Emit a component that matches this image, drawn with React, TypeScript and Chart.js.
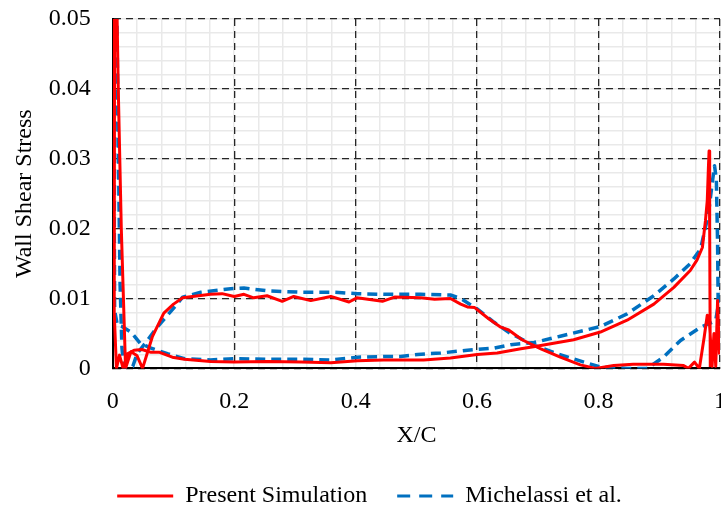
import React, { useEffect, useRef } from 'react';
import { Chart, registerables } from 'chart.js';

Chart.register(...registerables);

// ---- Data ----
const X_TICKS = [0, 0.2, 0.4, 0.6, 0.8, 1];
const X_LABELS = ['0', '0.2', '0.4', '0.6', '0.8', '1'];
const Y_TICKS = [0, 0.01, 0.02, 0.03, 0.04, 0.05];
const Y_LABELS = ['0', '0.01', '0.02', '0.03', '0.04', '0.05'];
const MINOR_DIVISIONS = 5;

const SERIES_NAMES = ['Present Simulation', 'Michelassi et al.'];

// Present Simulation: traced as one path around the blade surface
const PRESENT_SIMULATION: [number, number][] = [
  [0.999, 0.002], [0.996, 0.0097], [0.993, 0.0003], [0.990, 0.005], [0.987, 0.0003],
  [0.983, 0.006], [0.979, 0.0076], [0.974, 0.0045], [0.966, 0.0], [0.958, 0.0009],
  [0.948, 0.0], [0.940, 0.0004], [0.907, 0.0006], [0.857, 0.0006], [0.825, 0.0004],
  [0.795, 0.0], [0.770, 0.0005], [0.737, 0.0016], [0.705, 0.0028], [0.674, 0.0041],
  [0.652, 0.0055], [0.639, 0.0059], [0.619, 0.0071], [0.596, 0.0087], [0.584, 0.0088],
  [0.573, 0.0092], [0.556, 0.0100], [0.530, 0.0099], [0.507, 0.0101], [0.464, 0.0102],
  [0.444, 0.0096], [0.402, 0.0101], [0.389, 0.0095], [0.359, 0.0103], [0.326, 0.0097],
  [0.298, 0.0103], [0.279, 0.0096], [0.254, 0.0104], [0.232, 0.0101], [0.216, 0.0106],
  [0.200, 0.0103], [0.180, 0.0107], [0.161, 0.0106], [0.115, 0.0101], [0.100, 0.0092],
  [0.084, 0.0079], [0.065, 0.0045], [0.049, 0.0], [0.040, 0.0018], [0.030, 0.0024],
  [0.021, 0.0], [0.014, 0.02], [0.009, 0.04], [0.006, 0.056], [0.003, 0.056],
  [0.002, 0.04], [0.002, 0.02], [0.003, 0.008], [0.006, 0.0], [0.011, 0.0019],
  [0.017, 0.0], [0.024, 0.0021], [0.035, 0.0026], [0.048, 0.0027], [0.063, 0.0023],
  [0.077, 0.0023], [0.098, 0.0016], [0.118, 0.0013], [0.161, 0.0010], [0.200, 0.0009],
  [0.255, 0.0010], [0.310, 0.0009], [0.359, 0.0008], [0.403, 0.0011], [0.446, 0.0012],
  [0.512, 0.0012], [0.556, 0.0015], [0.600, 0.0020], [0.633, 0.0022], [0.672, 0.0028],
  [0.693, 0.0031], [0.759, 0.0041], [0.803, 0.0052], [0.847, 0.0069], [0.891, 0.0092],
  [0.924, 0.0116], [0.951, 0.0140], [0.962, 0.0155], [0.971, 0.0173], [0.976, 0.0211],
  [0.979, 0.0240], [0.981, 0.0290], [0.982, 0.0311], [0.983, 0.0200], [0.984, 0.0002],
];

// Michelassi et al.: traced as one path around the blade surface
const MICHELASSI: [number, number][] = [
  [0.0035, 0.056], [0.003, 0.04], [0.0025, 0.02], [0.003, 0.0083], [0.0075, 0.0062],
  [0.015, 0.0060], [0.030, 0.0052], [0.045, 0.0036], [0.063, 0.0029], [0.090, 0.0021],
  [0.118, 0.0014], [0.161, 0.0012], [0.200, 0.0014], [0.255, 0.0013], [0.310, 0.0013],
  [0.359, 0.0012], [0.403, 0.0016], [0.446, 0.0017], [0.474, 0.0017], [0.502, 0.0020],
  [0.540, 0.0022], [0.584, 0.0026], [0.628, 0.0029], [0.655, 0.0034], [0.694, 0.0037],
  [0.737, 0.0046], [0.803, 0.0060], [0.847, 0.0078], [0.891, 0.0104], [0.924, 0.0128],
  [0.951, 0.0150], [0.968, 0.0171], [0.981, 0.0221], [0.987, 0.0264], [0.991, 0.0290],
  [0.994, 0.0270], [0.996, 0.0180], [0.997, 0.0090], [0.993, 0.0069], [0.987, 0.0066],
  [0.968, 0.0059], [0.935, 0.0040], [0.907, 0.0016], [0.880, 0.0], [0.847, 0.0],
  [0.803, 0.0002], [0.776, 0.0009], [0.732, 0.0021], [0.694, 0.0033], [0.655, 0.0050],
  [0.628, 0.0066], [0.600, 0.0085], [0.573, 0.0100], [0.556, 0.0105], [0.507, 0.0106],
  [0.446, 0.0106], [0.403, 0.0107], [0.364, 0.0109], [0.309, 0.0109], [0.255, 0.0111],
  [0.216, 0.0115], [0.194, 0.0114], [0.145, 0.0109], [0.115, 0.0102], [0.106, 0.0092],
  [0.090, 0.0076], [0.073, 0.0059], [0.057, 0.0040], [0.040, 0.0021], [0.033, 0.0003],
  [0.025, 0.0], [0.018, 0.0], [0.015, 0.003], [0.012, 0.012], [0.010, 0.025],
  [0.008, 0.04], [0.006, 0.056],
];

const FONT = '"Liberation Serif", "Times New Roman", serif';

function minorTicks(major: number[]) {
  const out: { value: number }[] = [];
  for (let i = 0; i < major.length - 1; i++) {
    const a = major[i];
    const b = major[i + 1];
    for (let k = 0; k < MINOR_DIVISIONS; k++) out.push({ value: a + ((b - a) * k) / MINOR_DIVISIONS });
  }
  out.push({ value: major[major.length - 1] });
  return out;
}

export default function App() {
  const canvasRef = useRef<HTMLCanvasElement | null>(null);

  useEffect(() => {
    let chart: any = null;
    let cancelled = false;

    const build = () => {
      if (cancelled || !canvasRef.current) return;
      Chart.defaults.font.family = FONT;
      chart = new Chart(canvasRef.current, {
        type: 'scatter',
        data: {
          datasets: [
            {
              label: SERIES_NAMES[0],
              data: PRESENT_SIMULATION.map(([x, y]) => ({ x, y })),
              showLine: true,
              borderColor: '#FF0000',
              backgroundColor: '#FF0000',
              borderWidth: 3,
              pointRadius: 0,
              pointHoverRadius: 0,
              tension: 0,
              borderJoinStyle: 'round',
            } as any,
            {
              label: SERIES_NAMES[1],
              data: MICHELASSI.map(([x, y]) => ({ x, y })),
              showLine: true,
              borderColor: '#0070C0',
              backgroundColor: '#0070C0',
              borderWidth: 3.5,
              borderDash: [10, 6],
              pointRadius: 0,
              pointHoverRadius: 0,
              tension: 0,
              borderJoinStyle: 'round',
            } as any,
          ],
        },
        options: {
          responsive: false,
          animation: false,
          devicePixelRatio: 1,
          layout: { padding: { top: 0, right: 6, left: 0, bottom: 0 } },
          plugins: {
            tooltip: { enabled: false },
            legend: {
              position: 'bottom',
              labels: {
                usePointStyle: true,
                pointStyleWidth: 56,
                padding: 30,
                color: '#000',
                font: { size: 24, family: FONT },
                generateLabels: (c: any) =>
                  c.data.datasets.map((ds: any, i: number) => ({
                    text: ds.label,
                    fillStyle: ds.borderColor,
                    strokeStyle: ds.borderColor,
                    lineWidth: 3,
                    lineDash: ds.borderDash ? [13, 9] : [],
                    pointStyle: 'line',
                    datasetIndex: i,
                    hidden: false,
                    fontColor: '#000',
                  })),
              },
            },
          },
          scales: {
            xMinor: {
              type: 'linear',
              position: 'top',
              min: 0,
              max: 1,
              afterBuildTicks: (s: any) => { s.ticks = minorTicks(X_TICKS); },
              ticks: { display: false },
              grid: { color: '#e9e9e9', lineWidth: 1.5, drawTicks: false, z: -2 },
              border: { display: false },
            },
            yMinor: {
              type: 'linear',
              position: 'left',
              min: 0,
              max: 0.05,
              afterBuildTicks: (s: any) => { s.ticks = minorTicks(Y_TICKS); },
              ticks: { display: false },
              grid: { color: '#e9e9e9', lineWidth: 1.5, drawTicks: false, z: -2 },
              border: { display: false },
            },
            x: {
              type: 'linear',
              position: 'bottom',
              min: 0,
              max: 1,
              afterBuildTicks: (s: any) => { s.ticks = X_TICKS.map((v) => ({ value: v })); },
              ticks: {
                callback: (_v: any, i: number) => X_LABELS[i],
                font: { size: 24, family: FONT },
                color: '#000',
                padding: 19,
                maxRotation: 0,
                autoSkip: false,
              },
              grid: { color: '#262626', lineWidth: 1.3, drawTicks: false },
              border: { color: '#000', width: 2, dash: [7, 5] },
              title: {
                display: true,
                text: 'X/C',
                color: '#000',
                font: { size: 24, family: FONT },
                padding: { top: -14, bottom: 4 },
              },
            },
            y: {
              type: 'linear',
              position: 'left',
              min: 0,
              max: 0.05,
              afterBuildTicks: (s: any) => { s.ticks = Y_TICKS.map((v) => ({ value: v })); },
              afterFit: (s: any) => { s.paddingTop = 19; s.paddingBottom = 0; },
              ticks: {
                callback: (_v: any, i: number) => Y_LABELS[i],
                font: { size: 24, family: FONT },
                color: '#000',
                padding: 22,
                autoSkip: false,
              },
              grid: { color: '#262626', lineWidth: 1.3, drawTicks: false },
              border: { color: '#000', width: 2, dash: [7, 5] },
              title: {
                display: true,
                text: 'Wall Shear Stress',
                color: '#000',
                font: { size: 24, family: FONT },
                padding: { top: 10, bottom: -12 },
              },
            },
          },
        } as any,
      });
    };

    const fonts = (document as any).fonts;
    if (fonts && fonts.load) {
      Promise.all([fonts.load('24px "Liberation Serif"')]).then(build, build);
    } else {
      build();
    }

    return () => {
      cancelled = true;
      if (chart) chart.destroy();
    };
  }, []);

  return (
    <div
      style={{
        position: 'fixed',
        left: 0,
        top: 0,
        width: 721,
        height: 509,
        overflow: 'hidden',
        background: '#fff',
      }}
    >
      <canvas ref={canvasRef} width={745} height={518} style={{ display: 'block' }} />
    </div>
  );
}
